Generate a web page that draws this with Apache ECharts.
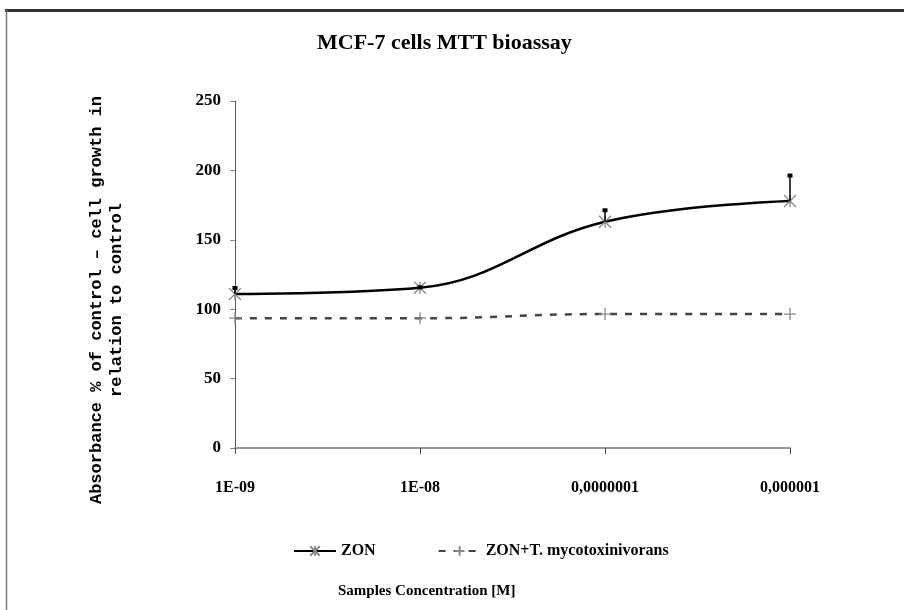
<!DOCTYPE html>
<html>
<head>
<meta charset="utf-8">
<script src="https://cdn.jsdelivr.net/npm/echarts@6/dist/echarts.min.js"></script>
<style>
  html, body { margin: 0; padding: 0; background: #fff; }
  #chart { width: 904px; height: 610px; }
</style>
</head>
<body>
<div id="chart"></div>
<script>
// Data
const concentrations = ["1E-09", "1E-08", "0,0000001", "0,000001"];
const zon = [111, 115.5, 163, 178];
const zonErr = [5, 1, 9, 19];          // upper error bar only
const zonMyco = [93.5, 93.5, 96.5, 96.5];
const yTicks = [0, 50, 100, 150, 200, 250];
const yName = "Absorbance % of control – cell growth in\nrelation to control";

const serif = "Liberation Serif";

const chartDom = document.getElementById("chart");
const myChart = echarts.init(chartDom);

const starSymbol = "path://M0,0L10,10M10,0L0,10M5,0L5,10";
const plusSymbol = "path://M5,0L5,10M0,5L10,5";

const option = {
  animation: false,
  title: [
    {
      text: "MCF-7 cells MTT bioassay",
      left: 312,
      top: 27,
      textStyle: { fontFamily: serif, fontSize: 22, fontWeight: "bold", color: "#000" },
    },
    {
      text: "Samples Concentration [M]",
      left: 333,
      top: 579,
      textStyle: { fontFamily: serif, fontSize: 15, fontWeight: "bold", color: "#000" },
    },
  ],
  grid: { left: 235, right: 114, top: 101, bottom: 162 },
  legend: {
    left: 288,
    top: 538,
    itemWidth: 42,
    itemHeight: 12,
    itemGap: 62,
    textStyle: { fontFamily: serif, fontSize: 16, fontWeight: "bold", color: "#000" },
    data: ["ZON", "ZON+T. mycotoxinivorans"],
  },
  xAxis: {
    type: "category",
    data: concentrations,
    boundaryGap: false,
    axisLine: { lineStyle: { color: "#999", width: 2 } },
    axisTick: { lineStyle: { color: "#444" }, length: 6 },
    axisLabel: {
      fontFamily: serif, fontSize: 16, fontWeight: "bold", color: "#000", margin: 32,
    },
  },
  yAxis: {
    type: "value",
    min: yTicks[0],
    max: yTicks[yTicks.length - 1],
    interval: 50,
    splitLine: { show: false },
    axisLine: { show: true, lineStyle: { color: "#555", width: 1 } },
    axisTick: { show: true, length: 5, lineStyle: { color: "#888" } },
    axisLabel: { fontFamily: serif, fontSize: 17, fontWeight: "bold", color: "#000", margin: 14 },
  },
  series: [
    {
      name: "ZON",
      type: "line",
      data: zon,
      smooth: 0.4,
      symbol: starSymbol,
      symbolSize: 12,
      showAllSymbol: true,
      lineStyle: { color: "#000", width: 2.5 },
      itemStyle: { color: "none", borderColor: "#888", borderWidth: 1.3 },
      z: 3,
    },
    {
      name: "ZON+T. mycotoxinivorans",
      type: "line",
      data: zonMyco,
      smooth: true,
      symbol: plusSymbol,
      symbolSize: 12,
      lineStyle: { color: "#444", width: 2.5, type: [7, 8] },
      itemStyle: { color: "none", borderColor: "#888", borderWidth: 1.3 },
      z: 2,
    },
    {
      name: "err",
      type: "custom",
      data: zon.map((v, i) => [i, v, v + zonErr[i]]),
      renderItem: function (params, api) {
        const p0 = api.coord([api.value(0), api.value(1)]);
        const p1 = api.coord([api.value(0), api.value(2)]);
        return {
          type: "group",
          children: [
            {
              type: "line",
              shape: { x1: p0[0], y1: p0[1], x2: p1[0], y2: p1[1] },
              style: { stroke: "#000", lineWidth: 1.5 },
            },
            {
              type: "rect",
              shape: { x: p1[0] - 2.5, y: p1[1] - 1, width: 5, height: 4 },
              style: { fill: "#000" },
            },
          ],
        };
      },
      z: 4,
    },
  ],
  graphic: [
    {
      type: "line",
      shape: { x1: 5, y1: 10.5, x2: 904, y2: 10.5 },
      style: { stroke: "#333", lineWidth: 3 },
    },
    {
      type: "line",
      shape: { x1: 6.5, y1: 10, x2: 6.5, y2: 610 },
      style: { stroke: "#777", lineWidth: 1.5 },
    },
    {
      // rotated y-axis title
      type: "text",
      x: 107,
      y: 300,
      rotation: Math.PI / 2,
      style: {
        text: yName,
        font: "bold 17px 'Liberation Mono'",
        fill: "#000",
        align: "center",
        verticalAlign: "middle",
        lineHeight: 20,
      },
    },
  ],
};

myChart.setOption(option);

window.addEventListener("resize", () => {
  myChart.resize();
});
</script>
</body>
</html>
